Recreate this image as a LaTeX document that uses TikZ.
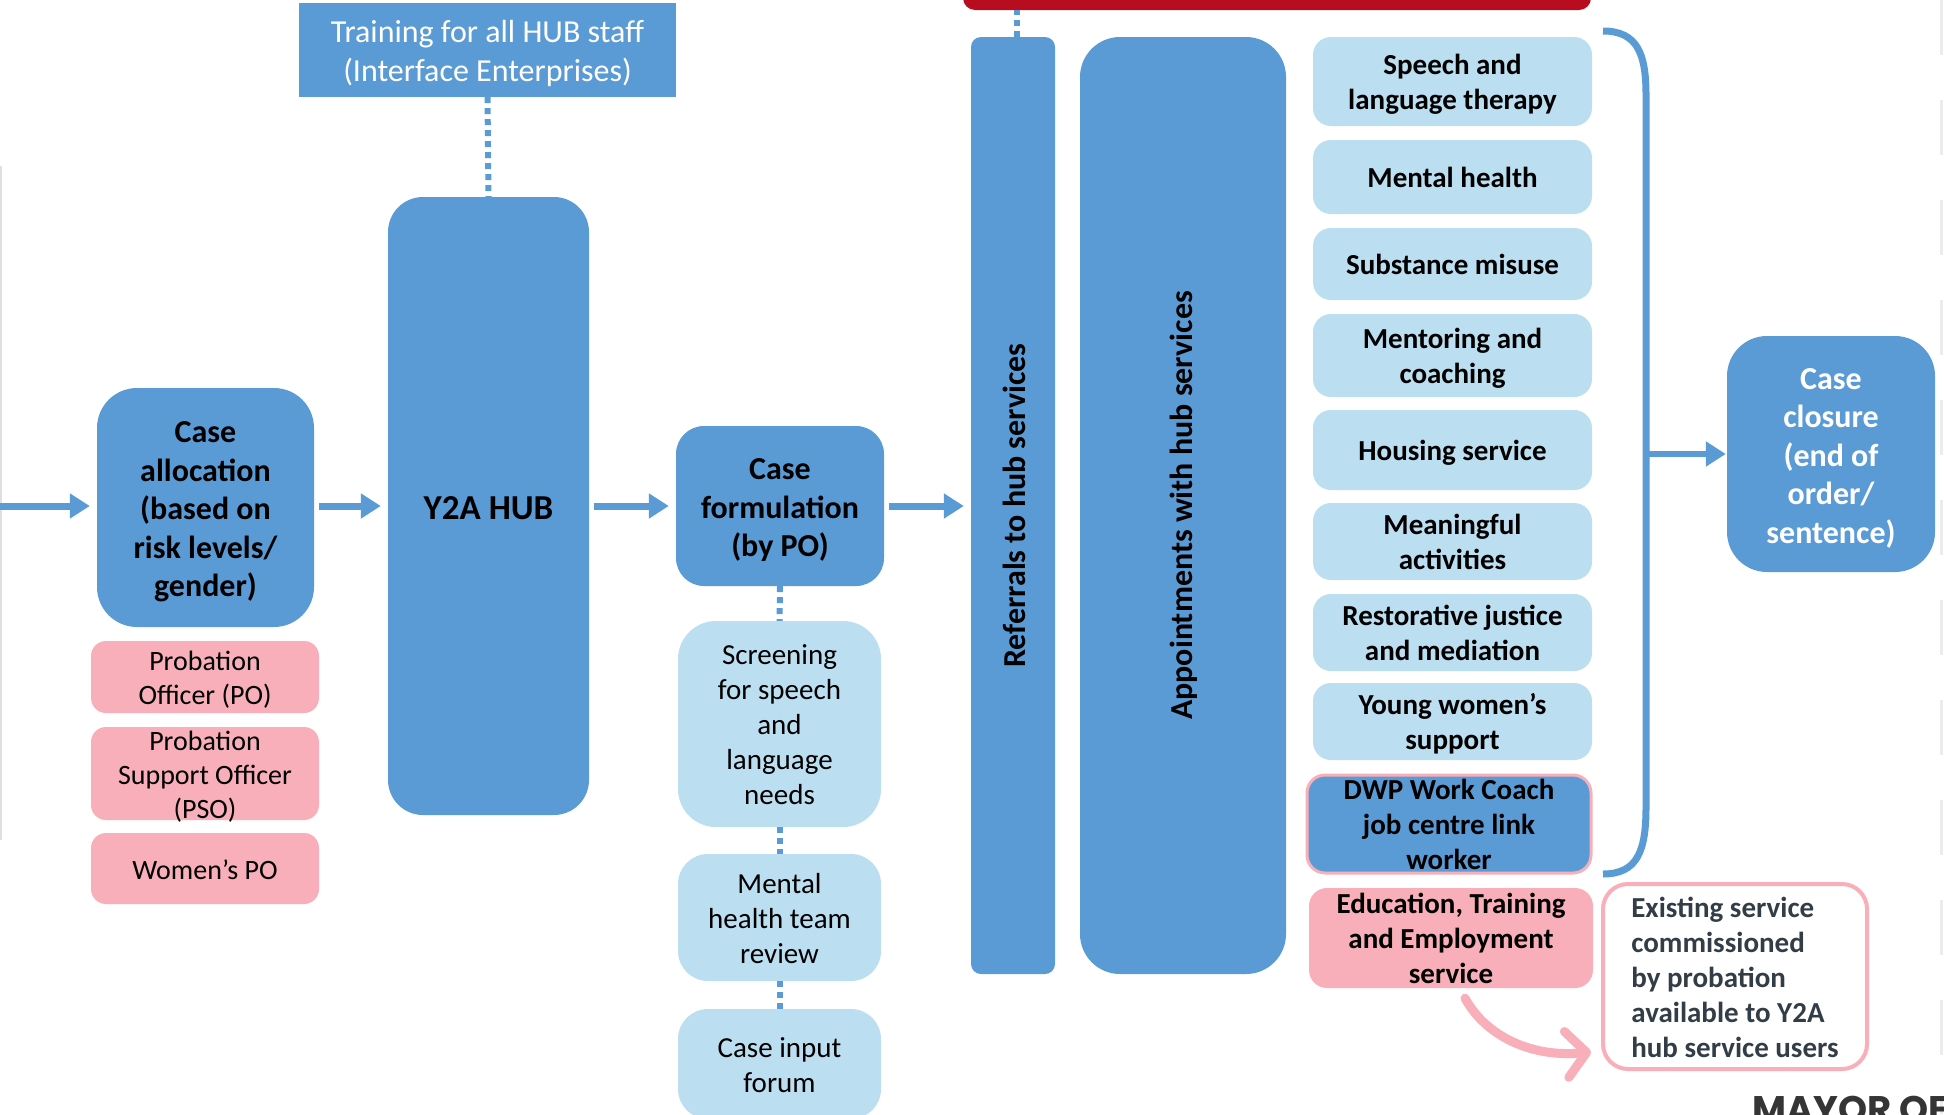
\documentclass[tikz,border=0pt]{standalone}
\usepackage{fontspec}
\setmainfont{Carlito}
\newfontfamily\mayorfont{Poppins}
\usetikzlibrary{arrows.meta}
\definecolor{hubblue}{HTML}{5B9BD5}
\definecolor{lightblue}{HTML}{BBDEF0}
\definecolor{pinkfill}{HTML}{F8AFB9}
\definecolor{redbar}{HTML}{B80C1F}
\definecolor{darktext}{HTML}{333D47}
\definecolor{mayorgray}{HTML}{353535}
\newcommand{\fstrut}{\rule{0pt}{1em}}
\begin{document}
\begin{tikzpicture}[x=1pt,y=-1pt,
  box/.style={rectangle, inner sep=0pt, align=center, text=black,
    execute at end node={\rule[-0.25em]{0pt}{0pt}}},
  bluebox/.style={box, fill=hubblue},
  ltbox/.style={box, fill=lightblue},
  pkbox/.style={box, fill=pinkfill},
  bigbold/.style={font=\fontsize{32}{38.5}\selectfont\bfseries},
  midreg/.style={font=\fontsize{28}{34}\selectfont},
  colreg/.style={font=\fontsize{29}{35}\selectfont},
  svcfont/.style={font=\fontsize{29}{35}\selectfont\bfseries},
  svc/.style={ltbox, rounded corners=18pt, minimum width=279pt, svcfont},
  flow/.style={draw=hubblue, line width=7pt, -{Triangle[length=20pt,width=24pt]}, shorten <=5pt, shorten >=7pt},
  dotline/.style={draw=hubblue, line width=6pt, dash pattern=on 6pt off 5pt},
  vlabel/.style={rotate=90, inner sep=0pt, font=\fontsize{32}{38}\selectfont\bfseries},
]
\useasboundingbox (0,0) rectangle (1944,1114);
\clip (0,0) rectangle (1944,1114);
\fill[white] (0,0) rectangle (1944,1114);

% faint page edges
\draw[gray!25, line width=2pt] (1,166) -- (1,840);
\draw[gray!15, line width=3pt, dash pattern=on 55pt off 45pt] (1941,0) -- (1941,1114);

% red bar at top
\node[fill=redbar, rounded corners=12pt, minimum width=628pt, minimum height=50pt, inner sep=0pt] (red) at (1277,-15) {};

% training
\node[box, fill=hubblue, text=white, minimum width=377pt, minimum height=94pt, font=\fontsize{32}{39.5}\selectfont] (train) at (487.5,50) {\fstrut Training for all HUB staff\\(Interface Enterprises)};

% hub
\node[bluebox, rounded corners=35pt, minimum width=201pt, minimum height=618pt, font=\fontsize{35}{42}\selectfont\bfseries] (hub) at (488.5,506) {\fstrut Y2A HUB};

% case allocation + staff
\node[bluebox, rounded corners=40pt, minimum width=217pt, minimum height=239pt, bigbold] (alloc) at (205.5,507.5) {\fstrut Case\\allocation\\(based on\\risk levels/\\gender)};
\node[pkbox, rounded corners=15pt, minimum width=228pt, minimum height=72pt, midreg] (po) at (205,677) {\fstrut Probation\\Officer (PO)};
\node[pkbox, rounded corners=15pt, minimum width=228pt, minimum height=93pt] (pso) at (205,773.5) {};
\node[box, midreg] (psotext) at (pso.center) {\fstrut Probation\\Support Officer\\(PSO)};
\node[pkbox, rounded corners=15pt, minimum width=228pt, minimum height=71pt, midreg] (wpo) at (205,868.5) {\fstrut Women’s PO};

% case formulation column
\node[bluebox, rounded corners=28pt, minimum width=208pt, minimum height=160pt, bigbold] (form) at (780,506) {\fstrut Case\\formulation\\(by PO)};
\node[ltbox, rounded corners=38pt, minimum width=203pt, minimum height=206pt, colreg] (screen) at (779.5,724) {\fstrut Screening\\for speech\\and\\language\\needs};
\node[ltbox, rounded corners=30pt, minimum width=203pt, minimum height=127pt, colreg] (mhr) at (779.5,917.5) {\fstrut Mental\\health team\\review};
\node[ltbox, rounded corners=30pt, minimum width=203pt, minimum height=110pt, colreg] (cif) at (779.5,1064) {\fstrut Case input\\forum};

% referrals / appointments
\node[fill=hubblue, rounded corners=10pt, minimum width=84pt, minimum height=937pt, inner sep=0pt] (ref) at (1013,505.5) {};
\node[vlabel] (reflabel) at ([xshift=1pt]ref.center) {Referrals to hub services};
\node[fill=hubblue, rounded corners=40pt, minimum width=206pt, minimum height=937pt, inner sep=0pt] (appt) at (1183,505.5) {};
\node[vlabel] (apptlabel) at ([xshift=1pt]appt.center) {Appointments with hub services};

% services
\node[svc, minimum height=89pt] (s1) at (1452.5,81.5) {\fstrut Speech and\\language therapy};
\node[svc, minimum height=74pt] (s2) at (1452.5,177) {\fstrut Mental health};
\node[svc, minimum height=72pt] (s3) at (1452.5,264) {\fstrut Substance misuse};
\node[svc, minimum height=83pt] (s4) at (1452.5,355.5) {\fstrut Mentoring and\\coaching};
\node[svc, minimum height=80pt] (s5) at (1452.5,450) {\fstrut Housing service};
\node[svc, minimum height=77pt] (s6) at (1452.5,541.5) {\fstrut Meaningful\\activities};
\node[svc, minimum height=77pt] (s7) at (1452.5,632.5) {\fstrut Restorative justice\\and mediation};
\node[svc, minimum height=77pt] (s8) at (1452.5,721.5) {\fstrut Young women’s\\support};
\node[bluebox, draw=pinkfill, line width=3pt, rounded corners=18pt, minimum width=284pt, minimum height=98pt] (dwp) at (1449,824) {};
\node[box, svcfont] (dwptext) at (dwp.center) {\fstrut DWP Work Coach\\job centre link\\worker};
\node[pkbox, rounded corners=18pt, minimum width=284pt, minimum height=100pt] (ete) at (1451,938) {};
\node[box, svcfont] (etetext) at (ete.center) {\fstrut Education, Training\\and Employment\\service};

% closure
\node[bluebox, text=white, rounded corners=40pt, minimum width=208pt, minimum height=236pt, bigbold] (closure) at (1831,454) {\fstrut Case\\closure\\(end of\\order/\\sentence)};

% existing service legend
\node[box, draw=pinkfill, line width=4pt, fill=white, rounded corners=25pt, minimum width=264pt, minimum height=185pt, align=left, text=darktext, svcfont] (exist) at (1735,976.5) {\fstrut Existing service\\commissioned\\by probation\\available to Y2A\\hub service users};

% logo text
\node[anchor=base west, inner sep=0pt, text=mayorgray, font=\mayorfont\fontsize{37}{42}\selectfont\bfseries] (mayor) at (1752,1122) {MAYOR OF};

% main flow arrows
\coordinate (start) at (0,506);
\draw[flow, shorten <=0pt] (start) -- (alloc.west |- start);
\draw[flow] (alloc.east |- start) -- (hub.west |- start);
\draw[flow] (hub.east) -- (form.west);
\draw[flow] (form.east) -- (form.east -| ref.west);

% dotted links
\draw[dotline] (train.south) -- (hub.north);
\draw[dotline] (form.south) -- (screen.north);
\draw[dotline] (screen.south) -- (mhr.north);
\draw[dotline] (mhr.south) -- (cif.north);
\draw[dotline] ([xshift=4pt]ref.north) -- ([xshift=4pt]ref.north |- red.south);

% brace round services
\draw[draw=hubblue, line width=7pt] (1603,31) .. controls (1638,31) and (1646,55) .. (1646,95) -- (1646,807) .. controls (1646,850) and (1638,874) .. (1603,874);
\coordinate (bm) at (1646,454);
\draw[flow, line width=6pt, shorten <=0pt, shorten >=1pt] (bm) -- (closure.west);

% pink curved arrow
\draw[draw=pinkfill, line width=9pt, line cap=round, -{Straight Barb[length=20pt,width=46pt,round]}] ([xshift=14pt,yshift=-10pt]ete.south) .. controls (1485,1035) and (1530,1058) .. ([xshift=-10pt,yshift=19pt]exist.south west);
\end{tikzpicture}
\end{document}
